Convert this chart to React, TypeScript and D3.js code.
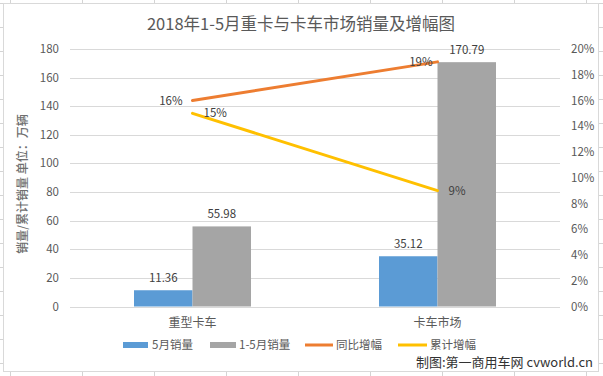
import React from "react";
import * as d3 from "d3";

const categories = ["重型卡车", "卡车市场"];
const maySales = [11.36, 35.12];
const ytdSales = [55.98, 170.79];
const yoyGrowth = [16, 19];
const cumGrowth = [15, 9];
const leftTicks = [0, 20, 40, 60, 80, 100, 120, 140, 160, 180];
const rightTicks = [0, 2, 4, 6, 8, 10, 12, 14, 16, 18, 20];

const W = 603, H = 376;
const FONT = "'Noto Sans CJK SC', 'Noto Sans', sans-serif";
const TXT = "#595959";
const BLUE = "#5b9bd5", GRAY = "#a5a5a5", ORANGE = "#ed7d31", YELLOW = "#ffc000";

export default function App() {
  const left = 70, right = 560, top = 49, bottom = 306.5;
  const x = d3.scaleBand().domain(categories).range([left, right]);
  const y = d3.scaleLinear().domain([0, 180]).range([bottom, top]);
  const y2 = d3.scaleLinear().domain([0, 20]).range([bottom, top]);
  const barW = 58.5;
  const cx = (c: string) => (x(c) as number) + x.bandwidth() / 2;
  const line = d3.line<[number, number]>().x(d => d[0]).y(d => d[1]);
  const yoyPts: [number, number][] = categories.map((c, i) => [cx(c), y2(yoyGrowth[i])]);
  const cumPts: [number, number][] = categories.map((c, i) => [cx(c), y2(cumGrowth[i])]);

  const gridCols = d3.range(10, W, 72);
  const gridRows = d3.range(3, H, 24);

  return (
    <svg width={W} height={H} style={{ position: "absolute", left: 0, top: 0 }} fontFamily={FONT}>
      <rect width={W} height={H} fill="#fff" />
      {gridCols.map(v => <line key={"gc" + v} x1={v + 0.5} x2={v + 0.5} y1={0} y2={H} stroke="#d4d4d4" />)}
      {gridRows.map(v => <line key={"gr" + v} x1={0} x2={W} y1={v + 0.5} y2={v + 0.5} stroke="#d4d4d4" />)}
      <rect x={3.5} y={3.5} width={595} height={368} fill="#fff" stroke="#d9d9d9" />
      <text x={301} y={30} textAnchor="middle" fontSize={16.5} fill={TXT}>2018年1-5月重卡与卡车市场销量及增幅图</text>
      {leftTicks.map(t => (
        <g key={"l" + t}>
          <line x1={left} x2={right} y1={Math.round(y(t)) + 0.5} y2={Math.round(y(t)) + 0.5} stroke="#d9d9d9" />
          <text x={59} y={y(t) + 4} textAnchor="end" fontSize={11.5} fill={TXT}>{t}</text>
        </g>
      ))}
      {rightTicks.map(t => (
        <text key={"r" + t} x={571} y={y2(t) + 4} fontSize={11.5} fill={TXT}>{t + "%"}</text>
      ))}
      <text transform={`translate(27,184) rotate(-90)`} textAnchor="middle" fontSize={12} fill="#6f6f6f" fontWeight={500}>销量/累计销量 单位：万辆</text>
      {categories.map((c, i) => (
        <g key={c}>
          <rect x={cx(c) - barW} y={y(maySales[i])} width={barW} height={bottom - y(maySales[i])} fill={BLUE} />
          <rect x={cx(c)} y={y(ytdSales[i])} width={barW} height={bottom - y(ytdSales[i])} fill={GRAY} />
          <text x={cx(c) - barW / 2} y={y(maySales[i]) - 8} textAnchor="middle" fontSize={11.5} fill="#404040">{maySales[i].toFixed(2)}</text>
          <text x={cx(c) + barW / 2} y={y(ytdSales[i]) - 8} textAnchor="middle" fontSize={11.5} fill="#404040">{ytdSales[i].toFixed(2)}</text>
          <text x={cx(c)} y={327} textAnchor="middle" fontSize={12} fill={TXT}>{c}</text>
        </g>
      ))}
      <path d={line(yoyPts) || ""} fill="none" stroke={ORANGE} strokeWidth={3} strokeLinecap="round" />
      <path d={line(cumPts) || ""} fill="none" stroke={YELLOW} strokeWidth={3} strokeLinecap="round" />
      <text x={yoyPts[0][0] - 10} y={yoyPts[0][1] + 4} textAnchor="end" fontSize={11.5} fill="#404040">{yoyGrowth[0] + "%"}</text>
      <text x={yoyPts[1][0] - 5} y={yoyPts[1][1] + 4} textAnchor="end" fontSize={11.5} fill="#404040">{yoyGrowth[1] + "%"}</text>
      <text x={cumPts[0][0] + 11} y={cumPts[0][1] + 4} fontSize={11.5} fill="#404040">{cumGrowth[0] + "%"}</text>
      <text x={cumPts[1][0] + 11} y={cumPts[1][1] + 4} fontSize={11.5} fill="#404040">{cumGrowth[1] + "%"}</text>
      <g fontSize={11.5} fill={TXT}>
        <rect x={123} y={342} width={25} height={6} fill={BLUE} />
        <text x={152} y={349}>5月销量</text>
        <rect x={210} y={342} width={26} height={6} fill={GRAY} />
        <text x={239} y={349}>1-5月销量</text>
        <line x1={305} x2={333} y1={345} y2={345} stroke={ORANGE} strokeWidth={3} />
        <text x={336} y={349}>同比增幅</text>
        <line x1={398} x2={427} y1={345} y2={345} stroke={YELLOW} strokeWidth={3} />
        <text x={430} y={349}>累计增幅</text>
      </g>
      <text x={593} y={367} textAnchor="end" fontSize={13} fill="#333">制图:第一商用车网 cvworld.cn</text>
    </svg>
  );
}
